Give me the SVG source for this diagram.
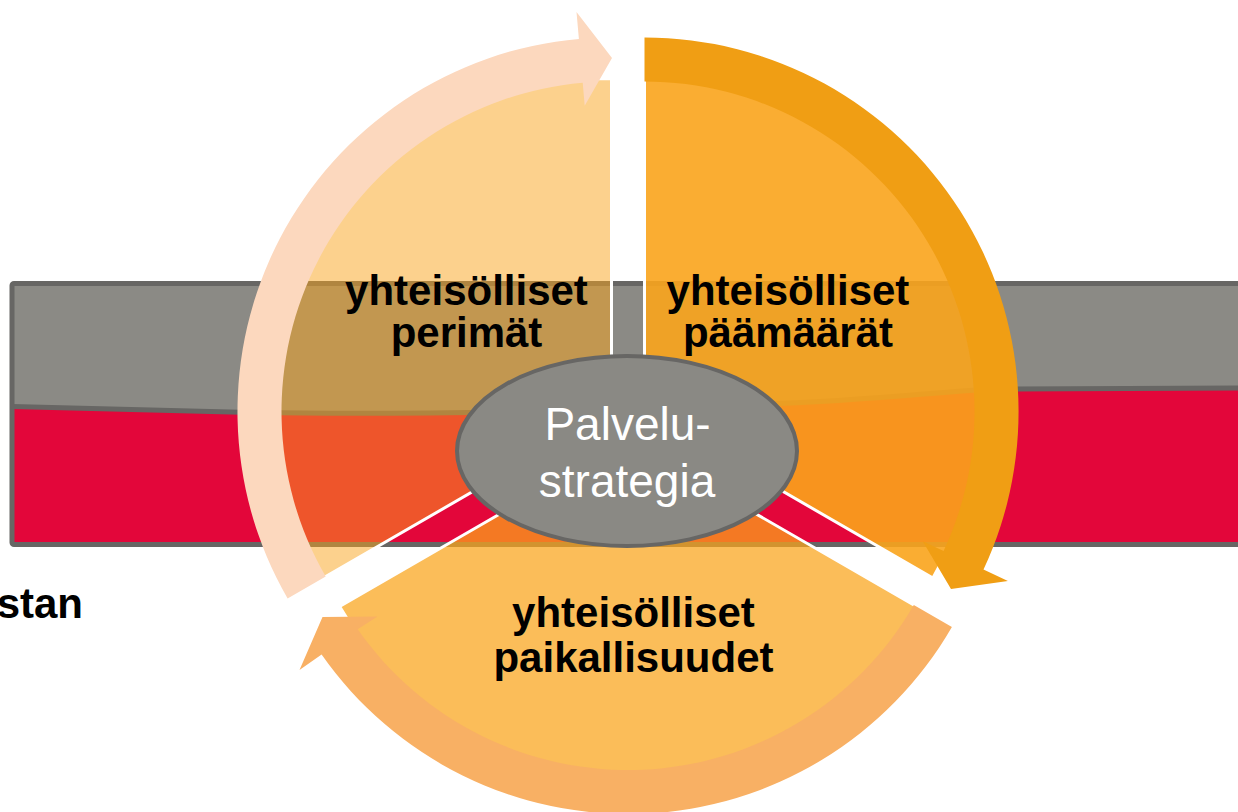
<svg xmlns="http://www.w3.org/2000/svg" width="1238" height="812" viewBox="0 0 1238 812">
  <style>
    .lbl { font-family: "Liberation Sans", Arial, sans-serif; font-weight: bold; font-size: 42px; fill: #000; text-anchor: middle; }
    .ctr { font-family: "Liberation Sans", Arial, sans-serif; font-size: 46px; fill: #fff; text-anchor: middle; }
    .sector { fill: #F9A41C; stroke: #fff; stroke-width: 3; stroke-linejoin: miter; }
  </style>
  <rect width="1238" height="812" fill="#fff"/>
  <g id="band">
    <rect x="12" y="283.5" width="1230" height="261" fill="#E3063A"/>
    <path d="M12,283.5 L1242,283.5 L1242,388 L1000,389 C960,390 900,397 830,401 C700,408 450,416 250,412.5 L12,406.5 Z" fill="#8B8A85"/>
    <path d="M12,406.5 L250,412.5 C450,416 700,408 830,401 C900,397 960,390 1000,389 L1242,388" fill="none" stroke="#676664" stroke-width="5"/>
    <rect x="12" y="283.5" width="1230" height="261" rx="2" fill="none" stroke="#676664" stroke-width="5"/>
  </g>
  <text class="lbl" x="83" y="618" style="text-anchor:end">stan</text>
  <g id="node-perimat">
    <path class="sector" fill-opacity="0.5" d="M611.5,411.5 L611.5,78.5 A333,333 0 0 0 323.1,578 Z"/>
    <text class="lbl" x="466.5" y="305">yhteisölliset</text>
    <text class="lbl" x="466.5" y="347">perimät</text>
  </g>
  <g id="node-paamaarat">
    <path class="sector" fill-opacity="0.9" d="M644.5,411.5 L644.5,78.5 A333,333 0 0 1 932.9,578 Z"/>
    <text class="lbl" x="788" y="305">yhteisölliset</text>
    <text class="lbl" x="788" y="347">päämäärät</text>
  </g>
  <g id="node-paikallisuudet">
    <path class="sector" fill-opacity="0.73" d="M628,440 L916.4,606.5 A333,333 0 0 1 339.6,606.5 Z"/>
    <text class="lbl" x="633.5" y="627">yhteisölliset</text>
    <text class="lbl" x="633.5" y="672">paikallisuudet</text>
  </g>
  <g id="connectors">
    <path id="arrow-perimat" fill="#FCD8BE" d="M287.6,598.5 A374,374 0 0 1 578.9,38.9 L576.5,12 L612,58 L584.7,105.7 L582.7,82.8 A330,330 0 0 0 325.7,576.5 Z"/>
    <path id="arrow-paamaarat" fill="#F09E14" d="M644.5,37.5 A374,374 0 0 1 983.5,569.6 L1007.9,581 L951,589 L922.7,541.2 L943.6,551 A330,330 0 0 0 644.5,81.5 Z"/>
    <path id="arrow-paikallisuudet" fill="#F8B064" d="M951.9,627 A374,374 0 0 1 321.6,654.5 L299.5,670 L322.5,617 L377.5,616.5 L357.7,629.3 A330,330 0 0 0 913.8,605 Z"/>
  </g>
  <g id="node-palvelustrategia">
    <ellipse cx="627" cy="451" rx="170" ry="95" fill="#8A8984" stroke="#676664" stroke-width="4"/>
    <text class="ctr" x="627.5" y="440">Palvelu-</text>
    <text class="ctr" x="627" y="497">strategia</text>
  </g>
</svg>
